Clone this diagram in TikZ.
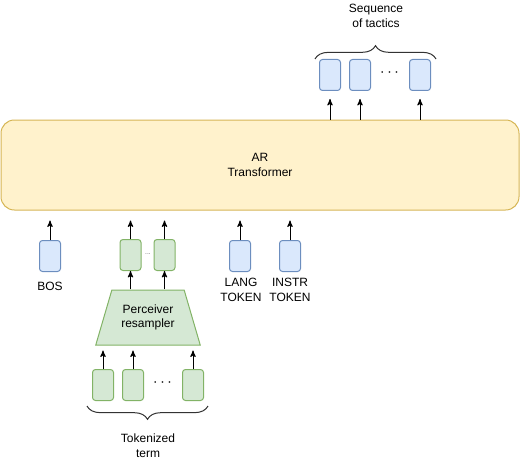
\documentclass[tikz,border=0pt]{standalone}
\usepackage{fontspec}
\setmainfont{Liberation Sans}
\usetikzlibrary{arrows, positioning, shapes.geometric, decorations.pathreplacing}
\definecolor{tokblue}{HTML}{DAE8FC}
\definecolor{tokblueline}{HTML}{6C8EBF}
\definecolor{tokgreen}{HTML}{D5E8D4}
\definecolor{tokgreenline}{HTML}{82B366}
\definecolor{arfill}{HTML}{FFF2CC}
\definecolor{arline}{HTML}{D6B656}
\tikzstyle{tok}=[draw=tokblueline, fill=tokblue, rounded corners=2.25pt, minimum width=15.75pt, minimum height=23.25pt, inner sep=0pt]
\tikzstyle{gtok}=[tok, draw=tokgreenline, fill=tokgreen]
\tikzstyle{trf}=[draw=arline, fill=arfill, rounded corners=10pt, minimum width=388.5pt, minimum height=67.5pt, align=center]
\tikzstyle{perc}=[draw=tokgreenline, fill=tokgreen, trapezium, trapezium angle=66.4, trapezium stretches=true, minimum width=78.75pt, minimum height=41.25pt, inner sep=1pt, align=center]
\tikzstyle{lbl}=[align=center]
\tikzstyle{dots}=[font=\fontsize{13}{13}\selectfont]
\tikzstyle{brc}=[draw=black!80, decorate, decoration={brace, amplitude=10pt}]

\begin{document}
\begin{tikzpicture}[x=0.75pt,y=-0.75pt,line width=0.75pt,node distance=22.5pt,>=stealth',font=\fontsize{9}{11}\selectfont]
      \useasboundingbox (0,0) rectangle (521,460);
      \node [trf] (ar) at (260,165) {AR\\Transformer};
      \node [tok] (t1) at (330,75) {};
      \node [tok] (t2) [right of=t1] {};
      \node [tok] (t3) [right of=t2, node distance=45pt] {};
      \node [dots] (tdots) at (389.5,73) {$\cdots$};
      \coordinate (tbl) at (315,59);
      \coordinate (tbr) at (436,59);
      \draw [brc] (tbl) -- (tbr);
      \node [lbl] (seq) at (376,16) {Sequence\\of tactics};
      \draw[->, shorten >=6pt] (ar.north -| t1) -- (t1);
      \draw[->, shorten >=6pt] (ar.north -| t2) -- (t2);
      \draw[->, shorten >=6pt] (ar.north -| t3) -- (t3);
      \node [tok] (bos) at (50,256) {};
      \node [lbl] (boslbl) at (50,286) {BOS};
      \node [gtok] (g1) at (130.5,255) {};
      \node [gtok] (g2) [right of=g1, node distance=25.5pt] {};
      \node [text=black!60, font=\tiny] (gdots) at (148,254) {...};
      \node [tok] (lang) at (240,256) {};
      \node [lbl] (langlbl) at (241,290) {LANG\\TOKEN};
      \node [tok] (instr) at (290,256) {};
      \node [lbl] (instrlbl) at (290,290) {INSTR\\TOKEN};
      \draw[->, shorten >=7.5pt] (bos) -- (bos |- ar.south);
      \draw[->, shorten >=7.5pt] (g1) -- (g1 |- ar.south);
      \draw[->, shorten >=7.5pt] (g2) -- (g2 |- ar.south);
      \draw[->, shorten >=7.5pt] (lang) -- (lang |- ar.south);
      \draw[->, shorten >=7.5pt] (instr) -- (instr |- ar.south);
      \node [perc] (res) at (148,317.5) {Perceiver\\resampler};
      \draw[->] (res.north -| g1) -- (g1);
      \draw[->] (res.north -| g2) -- (g2);
      \node [gtok] (b1) at (103,385) {};
      \node [gtok] (b2) [right of=b1] {};
      \node [gtok] (b3) [right of=b2, node distance=45pt] {};
      \node [dots] (bdots) at (162.5,383) {$\cdots$};
      \draw[->, shorten >=3.75pt] (b1) -- (b1 |- res.south);
      \draw[->, shorten >=3.75pt] (b2) -- (b2 |- res.south);
      \draw[->, shorten >=3.75pt] (b3) -- (b3 |- res.south);
      \coordinate (bbl) at (87,406);
      \coordinate (bbr) at (208,406);
      \draw [brc] (bbr) -- (bbl);
      \node [lbl] (term) at (148,446) {Tokenized\\term};
  \end{tikzpicture}
\end{document}
